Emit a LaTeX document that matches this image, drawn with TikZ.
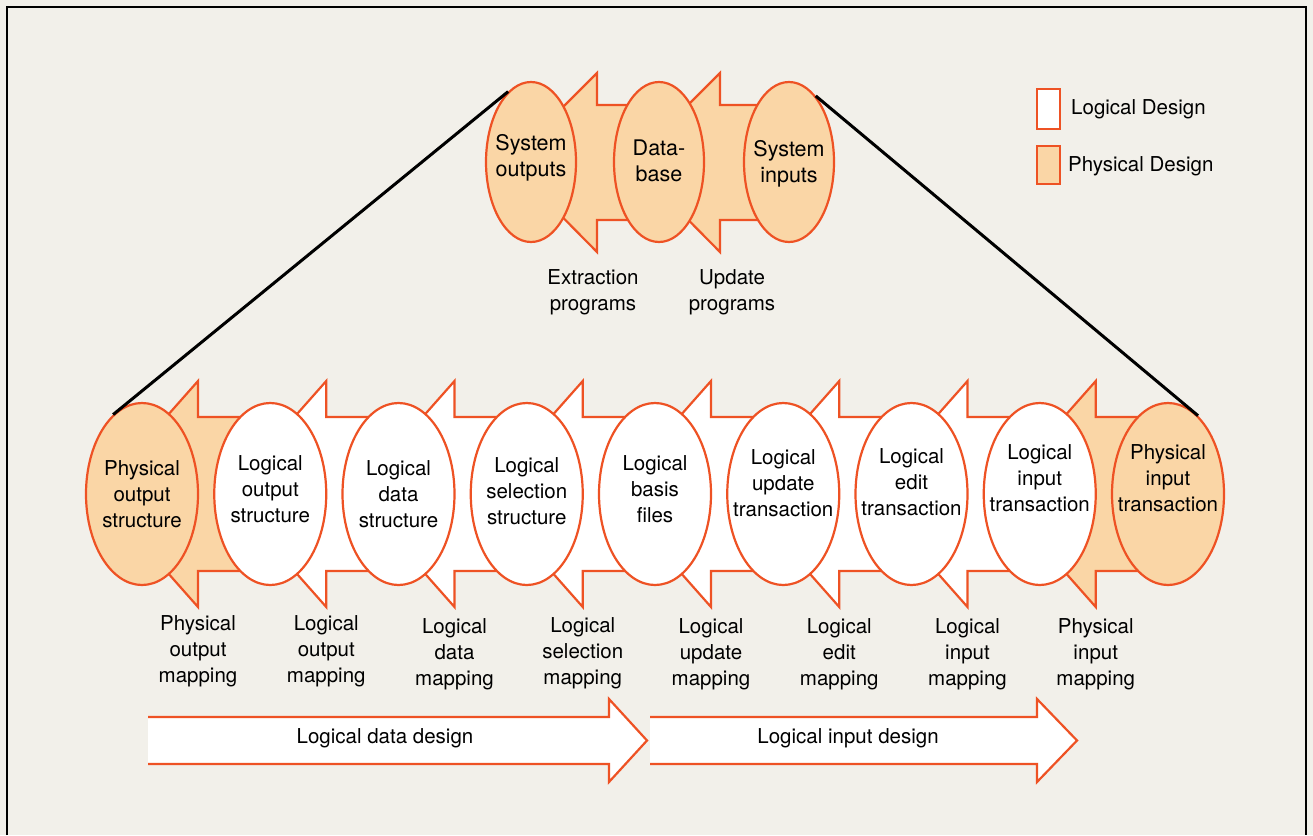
\documentclass[tikz,border=0pt]{standalone}
\usepackage{fontspec}
\setmainfont{TeX Gyre Heros}
\usetikzlibrary{shapes.geometric}
\definecolor{edge}{RGB}{238,82,36}
\definecolor{peach}{RGB}{250,214,166}
\definecolor{paper}{RGB}{242,240,234}

\begin{document}
\begin{tikzpicture}[x=1pt,y=-1pt,
    stage/.style={ellipse,draw=edge,line width=2.2pt,inner sep=0pt,
        minimum width=112pt,minimum height=182pt},
    topstage/.style={stage,fill=peach,minimum width=90pt,minimum height=160pt},
    flow/.style={draw=edge,line width=2.2pt,line join=miter},
    keybox/.style={draw=edge,line width=2.2pt,inner sep=0pt,minimum width=23pt},
    txt/.style={align=center,inner sep=0pt,font=\fontsize{20.5}{26}\selectfont},
    toptxt/.style={txt,font=\fontsize{21.5}{26}\selectfont}]
    \useasboundingbox (0,0) rectangle (1313,835);
    \fill[paper] (0,0) rectangle (1313,835);
    \draw[line width=2pt] (7,835) -- (7,7) -- (1306,7) -- (1306,835);

    % top row: system level
    \foreach \b/\r in {597/659, 720/789}
        \draw[flow,fill=peach] (\b-89,162) -- (\b,73) -- (\b,105) -- (\r,105)
            -- (\r,220) -- (\b,220) -- (\b,252) -- cycle;
    \node[topstage] (sysout) at (531,162) {};
    \node[topstage] (dbase) at (659,162) {};
    \node[topstage] (sysin) at (789,162) {};
    \node[toptxt] (sysoutt) at (531,158) {System\\outputs};
    \node[toptxt] (dbaset) at (659,161) {Data-\\base};
    \node[toptxt] (sysint) at (789,164) {System\\inputs};
    \node[txt] (extract) at (593,292) {Extraction\\programs};
    \node[txt] (update) at (732,292) {Update\\programs};

    % bottom row: design stages
    \foreach \i/\c in {0/peach,1/white,2/white,3/white,4/white,5/white,6/white,7/peach}{
        \pgfmathsetmacro\b{198+128.25*\i}
        \pgfmathsetmacro\r{270.25+128.25*\i}
        \draw[flow,fill=\c] (\b-100,494) -- (\b,381) -- (\b,417) -- (\r,417)
            -- (\r,571) -- (\b,571) -- (\b,607) -- cycle;
    }
    \foreach \i/\c/\ty/\txt in {0/peach/494/{Physical\\output\\structure},
            1/white/489/{Logical\\output\\structure},
            2/white/494/{Logical\\data\\structure},
            3/white/491/{Logical\\selection\\structure},
            4/white/489/{Logical\\basis\\files},
            5/white/483/{Logical\\update\\transaction},
            6/white/482/{Logical\\edit\\transaction},
            7/white/478/{Logical\\input\\transaction},
            8/peach/478/{Physical\\input\\transaction}}{
        \node[stage,fill=\c] (e\i) at (142+128.25*\i,494) {};
        \node[txt] (t\i) at (142+128.25*\i,\ty) {\txt};
    }
    \foreach \i/\ty/\txt in {0/651/{Physical\\output\\mapping},
            1/651/{Logical\\output\\mapping},
            2/654/{Logical\\data\\mapping},
            3/653/{Logical\\selection\\mapping},
            4/654/{Logical\\update\\mapping},
            5/654/{Logical\\edit\\mapping},
            6/654/{Logical\\input\\mapping},
            7/654/{Physical\\input\\mapping}}
        \node[txt] (m\i) at (198+128.25*\i,\ty) {\txt};

    % zoom lines
    \draw[line width=3pt] (e0.110) -- (sysout.108);
    \draw[line width=3pt] (sysin.68) -- (e8.69);

    % design phases
    \draw[flow,fill=white] (148,717) -- (609,717) -- (609,699) -- (647,740.5)
        -- (609,782) -- (609,764) -- (148,764);
    \draw[flow,fill=white] (650,717) -- (1037,717) -- (1037,699) -- (1077,740.5)
        -- (1037,782) -- (1037,764) -- (650,764);
    \node[txt] (datadesign) at (385,738) {Logical data design};
    \node[txt] (inputdesign) at (848,738) {Logical input design};

    % key
    \node[keybox,fill=white,minimum height=40pt] (keylog) at (1048.5,109) {};
    \node[keybox,fill=peach,minimum height=38pt] (keyphys) at (1048.5,165) {};
    \node[txt,anchor=west] (keylogt) at (1071,109) {Logical Design};
    \node[txt,anchor=west] (keyphyst) at (1068,166) {Physical Design};
\end{tikzpicture}
\end{document}
